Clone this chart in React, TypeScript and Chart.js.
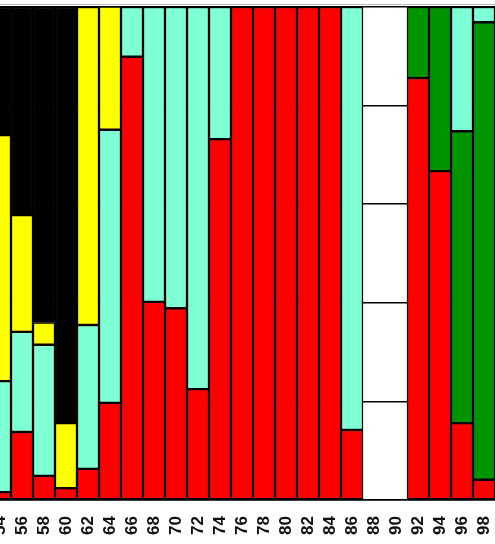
import React, { useEffect, useRef } from "react";
import { Chart, registerables } from "chart.js";

Chart.register(...registerables);

const categories = ["54","56","58","60","62","64","66","68","70","72","74","76","78","80","82","84","86","88","90","92","94","96","98"];

// percent shares, stacked bottom -> top: red, green, cyan, yellow, black
const redValues =    [1.6, 13.8, 4.9, 2.4, 6.3, 19.7, 89.9, 40.2, 38.9, 22.5, 73.2, 100, 100, 100, 100, 100, 14.2, null, null, 85.6, 66.7, 15.6, 4.1];
const greenValues =  [null, null, null, null, null, null, null, null, null, null, null, null, null, null, null, null, null, null, null, 14.4, 33.3, 59.2, 92.8];
const cyanValues =   [22.5, 20.3, 26.6, null, 29.2, 55.4, 10.1, 59.8, 61.1, 77.5, 26.8, null, null, null, null, null, 85.8, null, null, null, null, 25.2, 3.1];
const yellowValues = [49.9, 23.7, 4.5, 13.2, 64.5, 25.0, null, null, null, null, null, null, null, null, null, null, null, null, null, null, null, null, null];
const blackValues =  [26.0, 42.2, 64.0, 84.4, null, null, null, null, null, null, null, null, null, null, null, null, null, null, null, null, null, null, null];

export default function App() {
  const ref = useRef<HTMLCanvasElement>(null);
  useEffect(() => {
    if (!ref.current) return;
    const mk = (label: string, data: (number | null)[], color: string) => ({
      label,
      data,
      backgroundColor: color,
      borderColor: "#000000",
      borderWidth: 1.5,
      borderSkipped: false as const,
      barPercentage: 1,
      categoryPercentage: 1,
    });
    const chart = new Chart(ref.current, {
      type: "bar",
      data: {
        labels: categories,
        datasets: [
          mk("red", redValues, "#FF0000"),
          mk("green", greenValues, "#009400"),
          mk("cyan", cyanValues, "#7FFFD4"),
          mk("yellow", yellowValues, "#FFFF00"),
          mk("black", blackValues, "#000000"),
        ],
      },
      options: {
        responsive: false,
        animation: false,
        layout: { padding: { top: 7, left: 0, right: 0, bottom: 0 } },
        plugins: { legend: { display: false }, tooltip: { enabled: false } },
        scales: {
          x: {
            stacked: true,
            grid: { display: false, drawTicks: false },
            border: { display: true, color: "#000000", width: 1.5 },
            ticks: {
              autoSkip: false,
              minRotation: 90,
              maxRotation: 90,
              padding: 16,
              color: "#111111",
              font: { family: "'Liberation Sans', Arial, sans-serif", size: 17, weight: "bold" },
            },
            afterFit: (s: any) => {
              s.height = 44;
              s.paddingLeft = 0;
              s.paddingRight = 0;
            },
          },
          y: {
            stacked: true,
            min: 0,
            max: 100,
            ticks: { display: false, stepSize: 20 },
            grid: { color: "#000000", lineWidth: 1.5, drawTicks: false },
            border: { display: false },
            afterFit: (s: any) => {
              s.width = 0;
              s.paddingTop = 0;
              s.paddingBottom = 0;
            },
          },
        },
      },
    });
    return () => chart.destroy();
  }, []);
  return (
    <div style={{ position: "fixed", left: 0, top: 0, width: 495, height: 544, overflow: "hidden", background: "#ffffff" }}>
      <div style={{ position: "absolute", left: 0, top: 4, width: 495, height: 1, background: "#bbbbbb" }} />
      <canvas ref={ref} width={506} height={544} style={{ position: "absolute", left: -11, top: 0 }} />
    </div>
  );
}
